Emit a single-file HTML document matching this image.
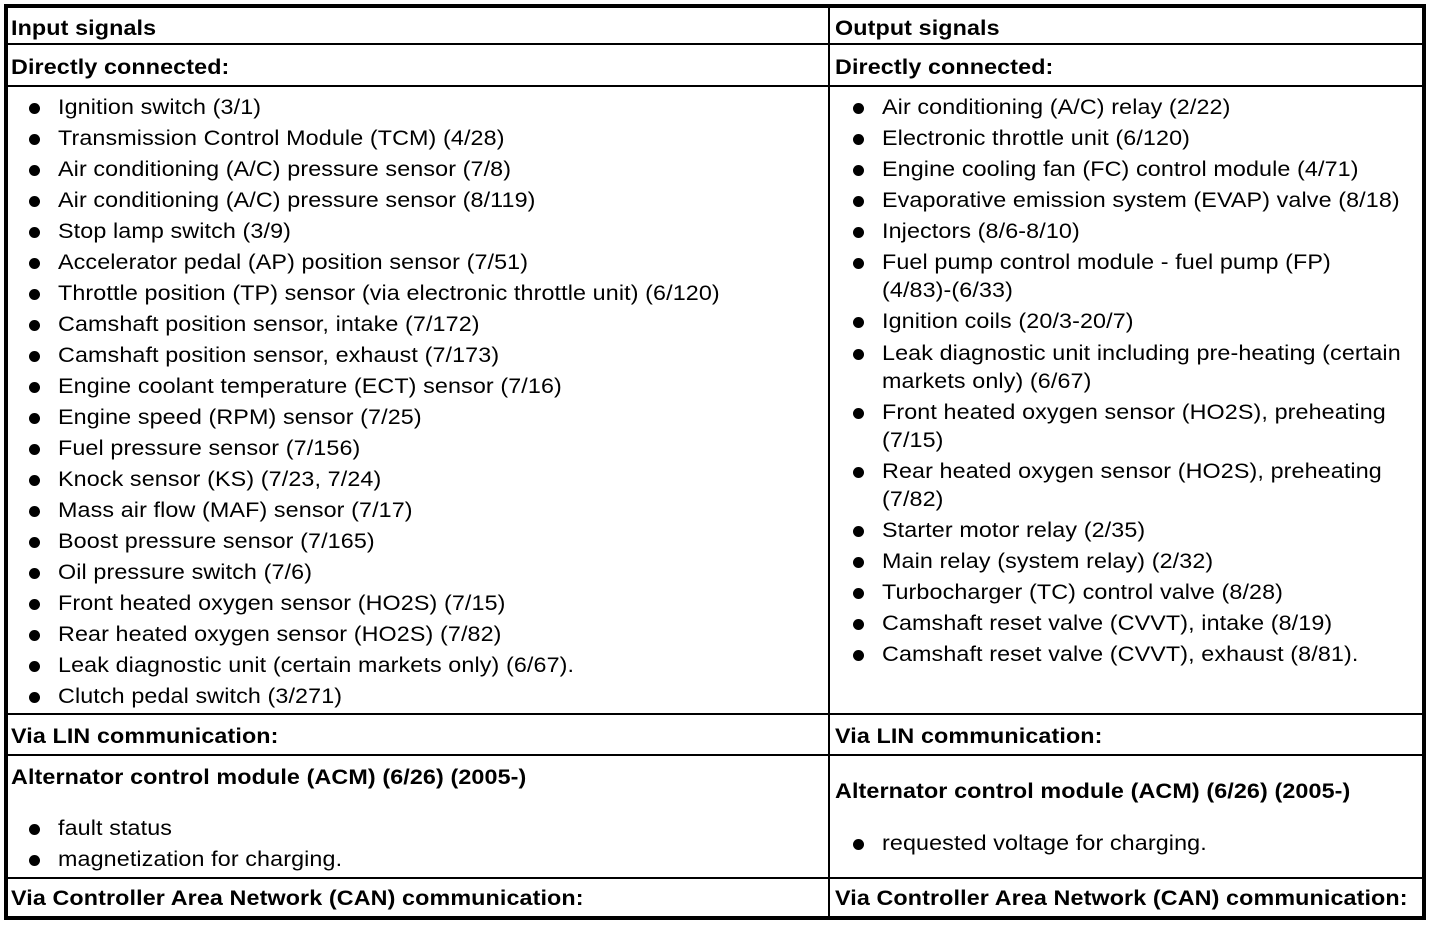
<!DOCTYPE html>
<html>
<head>
<meta charset="utf-8">
<style>
  html, body { margin:0; padding:0; background:#fff; }
  body { width:1456px; height:926px; position:relative; overflow:hidden;
         font-family:"Liberation Sans", Arial, sans-serif; color:#000; }
  .t { position:absolute; white-space:nowrap; font-size:21px; line-height:28px; letter-spacing:0.1px;
       transform:scaleX(1.11); transform-origin:0 0; }
  .b { font-weight:bold; }
  .hl { position:absolute; background:#000; height:2px; }
  .vl { position:absolute; background:#000; width:2px; }
  .dot { position:absolute; width:11px; height:11px; border-radius:50%; background:#000; }
</style>
</head>
<body>
<!-- outer border -->
<div style="position:absolute;left:4px;top:4px;width:1414px;height:908px;border:4px solid #000;"></div>
<!-- inner lines -->
<div class="vl" style="left:828px;top:6px;height:912px;"></div>
<div class="hl" style="left:6px;top:43px;width:1418px;"></div>
<div class="hl" style="left:6px;top:85px;width:1418px;"></div>
<div class="hl" style="left:6px;top:713px;width:1418px;"></div>
<div class="hl" style="left:6px;top:754px;width:1418px;"></div>
<div class="hl" style="left:6px;top:877px;width:1418px;"></div>

<!-- headers -->
<div class="t b" style="left:11px;top:15px;">Input signals</div>
<div class="t b" style="left:835px;top:15px;">Output signals</div>
<div class="t b" style="left:11px;top:54px;">Directly connected:</div>
<div class="t b" style="left:835px;top:54px;">Directly connected:</div>

<!-- left list -->
<div class="dot" style="left:29px;top:103px;"></div><div class="t" style="left:58px;top:94px;">Ignition switch (3/1)</div>
<div class="dot" style="left:29px;top:134px;"></div><div class="t" style="left:58px;top:125px;">Transmission Control Module (TCM) (4/28)</div>
<div class="dot" style="left:29px;top:165px;"></div><div class="t" style="left:58px;top:156px;">Air conditioning (A/C) pressure sensor (7/8)</div>
<div class="dot" style="left:29px;top:196px;"></div><div class="t" style="left:58px;top:187px;">Air conditioning (A/C) pressure sensor (8/119)</div>
<div class="dot" style="left:29px;top:227px;"></div><div class="t" style="left:58px;top:218px;">Stop lamp switch (3/9)</div>
<div class="dot" style="left:29px;top:258px;"></div><div class="t" style="left:58px;top:249px;">Accelerator pedal (AP) position sensor (7/51)</div>
<div class="dot" style="left:29px;top:289px;"></div><div class="t" style="left:58px;top:280px;">Throttle position (TP) sensor (via electronic throttle unit) (6/120)</div>
<div class="dot" style="left:29px;top:320px;"></div><div class="t" style="left:58px;top:311px;">Camshaft position sensor, intake (7/172)</div>
<div class="dot" style="left:29px;top:351px;"></div><div class="t" style="left:58px;top:342px;">Camshaft position sensor, exhaust (7/173)</div>
<div class="dot" style="left:29px;top:382px;"></div><div class="t" style="left:58px;top:373px;">Engine coolant temperature (ECT) sensor (7/16)</div>
<div class="dot" style="left:29px;top:413px;"></div><div class="t" style="left:58px;top:404px;">Engine speed (RPM) sensor (7/25)</div>
<div class="dot" style="left:29px;top:444px;"></div><div class="t" style="left:58px;top:435px;">Fuel pressure sensor (7/156)</div>
<div class="dot" style="left:29px;top:475px;"></div><div class="t" style="left:58px;top:466px;">Knock sensor (KS) (7/23, 7/24)</div>
<div class="dot" style="left:29px;top:506px;"></div><div class="t" style="left:58px;top:497px;">Mass air flow (MAF) sensor (7/17)</div>
<div class="dot" style="left:29px;top:537px;"></div><div class="t" style="left:58px;top:528px;">Boost pressure sensor (7/165)</div>
<div class="dot" style="left:29px;top:568px;"></div><div class="t" style="left:58px;top:559px;">Oil pressure switch (7/6)</div>
<div class="dot" style="left:29px;top:599px;"></div><div class="t" style="left:58px;top:590px;">Front heated oxygen sensor (HO2S) (7/15)</div>
<div class="dot" style="left:29px;top:630px;"></div><div class="t" style="left:58px;top:621px;">Rear heated oxygen sensor (HO2S) (7/82)</div>
<div class="dot" style="left:29px;top:661px;"></div><div class="t" style="left:58px;top:652px;">Leak diagnostic unit (certain markets only) (6/67).</div>
<div class="dot" style="left:29px;top:692px;"></div><div class="t" style="left:58px;top:683px;">Clutch pedal switch (3/271)</div>

<!-- right list -->
<div class="dot" style="left:853px;top:103px;"></div><div class="t" style="left:882px;top:94px;">Air conditioning (A/C) relay (2/22)</div>
<div class="dot" style="left:853px;top:134px;"></div><div class="t" style="left:882px;top:125px;">Electronic throttle unit (6/120)</div>
<div class="dot" style="left:853px;top:165px;"></div><div class="t" style="left:882px;top:156px;">Engine cooling fan (FC) control module (4/71)</div>
<div class="dot" style="left:853px;top:196px;"></div><div class="t" style="left:882px;top:187px;">Evaporative emission system (EVAP) valve (8/18)</div>
<div class="dot" style="left:853px;top:227px;"></div><div class="t" style="left:882px;top:218px;">Injectors (8/6-8/10)</div>
<div class="dot" style="left:853px;top:258px;"></div><div class="t" style="left:882px;top:249px;">Fuel pump control module - fuel pump (FP)</div>
<div class="t" style="left:882px;top:277px;">(4/83)-(6/33)</div>
<div class="dot" style="left:853px;top:317px;"></div><div class="t" style="left:882px;top:308px;">Ignition coils (20/3-20/7)</div>
<div class="dot" style="left:853px;top:349px;"></div><div class="t" style="left:882px;top:340px;">Leak diagnostic unit including pre-heating (certain</div>
<div class="t" style="left:882px;top:368px;">markets only) (6/67)</div>
<div class="dot" style="left:853px;top:408px;"></div><div class="t" style="left:882px;top:399px;">Front heated oxygen sensor (HO2S), preheating</div>
<div class="t" style="left:882px;top:427px;">(7/15)</div>
<div class="dot" style="left:853px;top:467px;"></div><div class="t" style="left:882px;top:458px;">Rear heated oxygen sensor (HO2S), preheating</div>
<div class="t" style="left:882px;top:486px;">(7/82)</div>
<div class="dot" style="left:853px;top:526px;"></div><div class="t" style="left:882px;top:517px;">Starter motor relay (2/35)</div>
<div class="dot" style="left:853px;top:557px;"></div><div class="t" style="left:882px;top:548px;">Main relay (system relay) (2/32)</div>
<div class="dot" style="left:853px;top:588px;"></div><div class="t" style="left:882px;top:579px;">Turbocharger (TC) control valve (8/28)</div>
<div class="dot" style="left:853px;top:619px;"></div><div class="t" style="left:882px;top:610px;">Camshaft reset valve (CVVT), intake (8/19)</div>
<div class="dot" style="left:853px;top:650px;"></div><div class="t" style="left:882px;top:641px;">Camshaft reset valve (CVVT), exhaust (8/81).</div>

<!-- bottom section -->
<div class="t b" style="left:11px;top:723px;">Via LIN communication:</div>
<div class="t b" style="left:835px;top:723px;">Via LIN communication:</div>

<div class="t b" style="left:11px;top:764px;">Alternator control module (ACM) (6/26) (2005-)</div>
<div class="dot" style="left:29px;top:824px;"></div><div class="t" style="left:58px;top:815px;">fault status</div>
<div class="dot" style="left:29px;top:855px;"></div><div class="t" style="left:58px;top:846px;">magnetization for charging.</div>

<div class="t b" style="left:835px;top:778px;">Alternator control module (ACM) (6/26) (2005-)</div>
<div class="dot" style="left:853px;top:839px;"></div><div class="t" style="left:882px;top:830px;">requested voltage for charging.</div>

<div class="t b" style="left:11px;top:885px;">Via Controller Area Network (CAN) communication:</div>
<div class="t b" style="left:835px;top:885px;">Via Controller Area Network (CAN) communication:</div>
</body>
</html>
